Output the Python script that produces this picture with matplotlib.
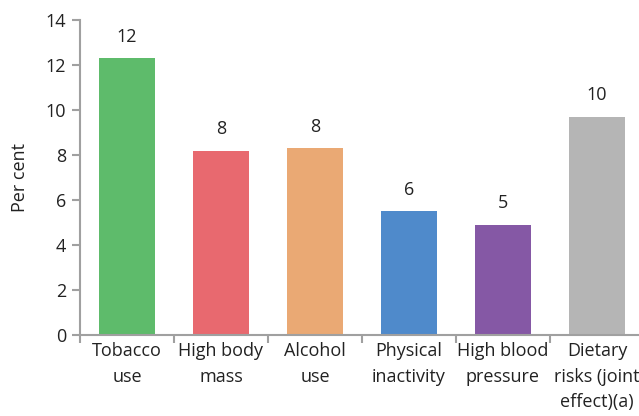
import matplotlib
matplotlib.use("Agg")
import matplotlib.pyplot as plt
import numpy as np

categories = ["Tobacco\nuse", "High body\nmass", "Alcohol\nuse", "Physical\ninactivity",
              "High blood\npressure", "Dietary\nrisks (joint\neffect)(a)"]
values = [12.3, 8.2, 8.3, 5.5, 4.9, 9.7]
labels = ["12", "8", "8", "6", "5", "10"]
colors = ["#5EBB6B", "#E8696F", "#EAA974", "#4F8ACB", "#8558A5", "#B5B5B5"]
yticks = [0, 2, 4, 6, 8, 10, 12, 14]

plt.rcParams['font.family'] = ['Open Sans', 'DejaVu Sans']
W, H = 639, 416
fig = plt.figure(figsize=(W/100, H/100), dpi=100)
ax = fig.add_axes([80/W, (H-335)/H, 564/W, 315/H])

fs = 13
x = np.arange(len(categories))
bars = ax.bar(x, values, width=0.6, color=colors, zorder=2)
for xi, v, lab in zip(x, values, labels):
    ax.annotate(lab, (xi, v), xytext=(0, 9), textcoords="offset points",
                ha="center", va="bottom", fontsize=fs, color="#222222")

ax.set_xlim(-0.5, len(categories) - 0.5)
ax.set_ylim(0, 14)
ax.set_yticks(yticks)
ax.set_yticklabels([str(t) for t in yticks], fontsize=fs, color="#222222")
ax.set_xticks(x)
ax.set_xticklabels(categories, fontsize=fs, color="#222222", linespacing=1.55)
ax.set_xticks(np.arange(len(categories) + 1) - 0.5, minor=True)
ax.tick_params(axis="x", which="major", length=0, pad=5)
ax.tick_params(axis="x", which="minor", length=6, width=1.5, color="#A0A0A0", direction="out")
ax.tick_params(axis="y", length=6, width=1.5, color="#A0A0A0", direction="out", pad=4)
for s in ["top", "right"]:
    ax.spines[s].set_visible(False)
for s in ["left", "bottom"]:
    ax.spines[s].set_color("#A0A0A0")
    ax.spines[s].set_linewidth(1.5)
ax.set_ylabel("Per cent", fontsize=fs, color="#222222", labelpad=12)

fig.savefig("out.png", dpi=100)
